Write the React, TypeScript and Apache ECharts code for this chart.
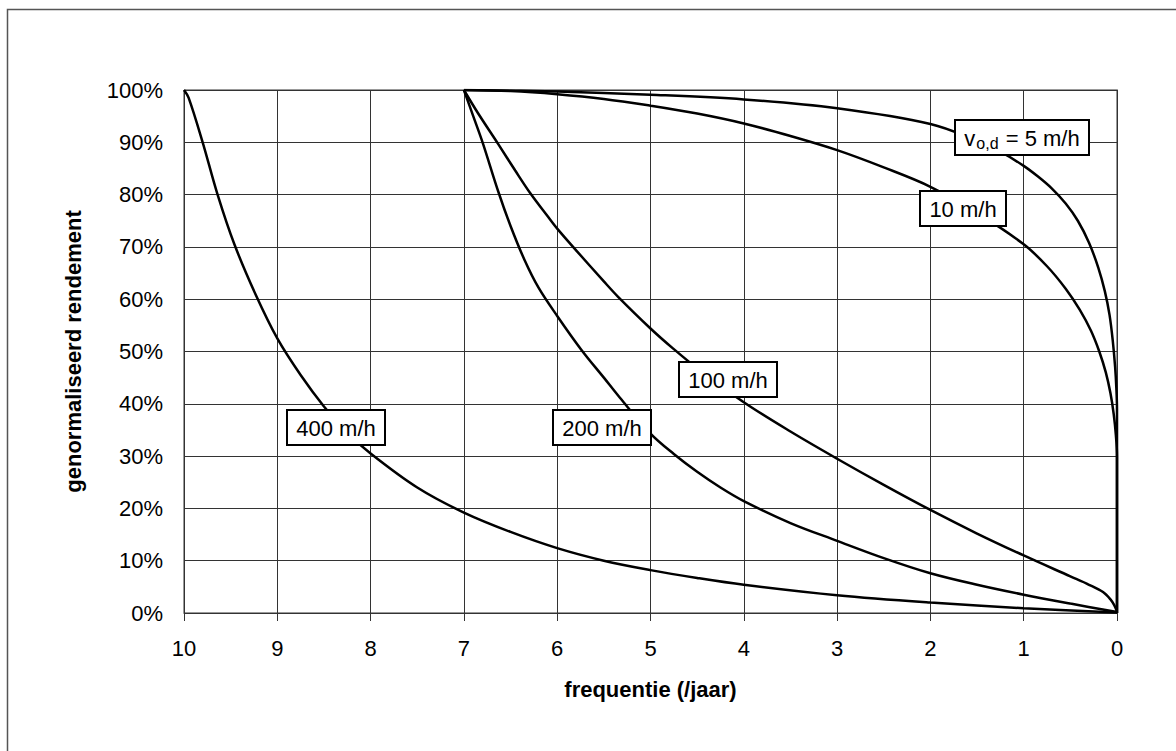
import React, { useEffect, useRef } from "react";
import * as echarts from "echarts";

// frequentie (/jaar) , genormaliseerd rendement (%)
const curve5: number[][] = [
  [7, 100], [6, 99.7], [5, 99.1], [4, 98.2], [3, 96.5], [2, 93.5], [1.5, 90.3], [1.25, 88.2],
  [1.0, 85.5], [0.85, 83.5], [0.7, 81.2], [0.55, 78.3], [0.42, 75], [0.3, 70.8], [0.2, 66],
  [0.13, 61.5], [0.08, 57], [0.045, 52], [0.02, 47], [0.007, 43], [0, 39], [0, 0],
];
const curve10: number[][] = [
  [7, 100], [6.5, 99.8], [6, 99.2], [5.5, 98.3], [5, 97], [4.5, 95.5], [4, 93.6], [3.5, 91.2],
  [3, 88.5], [2.5, 85.2], [2, 81.5], [1.5, 76.5], [1.0, 70.5], [0.75, 66.3], [0.55, 62],
  [0.4, 58], [0.28, 54], [0.19, 50], [0.12, 46], [0.07, 42], [0.035, 38], [0.012, 34], [0, 30], [0, 0],
];
const curve100: number[][] = [
  [7, 100], [6.85, 95.6], [6.63, 89.6], [6.45, 84.6], [6.29, 80.3], [6.1, 75.8], [6, 73.5],
  [5.79, 69.2], [5.5, 63.4], [5.35, 60.5], [5, 54.4], [4.76, 50.6], [4.5, 46.8], [4, 40.3],
  [3.5, 34.7], [3, 29.5], [2.5, 24.5], [2, 19.7], [1.5, 15.2], [1, 11], [0.5, 7], [0.3, 5.4],
  [0.15, 4], [0.07, 2.6], [0.03, 1.5], [0, 0.3],
];
const curve200: number[][] = [
  [7, 100], [6.9, 95], [6.8, 90], [6.63, 80.5], [6.5, 74], [6.35, 67.5], [6.2, 62.2], [6, 56.8],
  [5.74, 50.3], [5.5, 45], [5.33, 41.2], [5, 34.3], [4.75, 30.4], [4.5, 27], [4.25, 24],
  [4, 21.4], [3.5, 17.2], [3, 13.8], [2.5, 10.5], [2, 7.6], [1.5, 5.4], [1, 3.5], [0.5, 1.8], [0, 0.2],
];
const curve400: number[][] = [
  [10, 100], [9.95, 98.5], [9.8, 90], [9.64, 80], [9.46, 70.5], [9.23, 60.8], [9, 52.5],
  [8.75, 45.5], [8.5, 39.5], [8.25, 34.5], [8, 30.5], [7.5, 24], [7, 19.2], [6.5, 15.5],
  [6, 12.4], [5.5, 10], [5, 8.2], [4.5, 6.7], [4, 5.4], [3, 3.4], [2, 2.0], [1, 0.9], [0, 0.1],
];

// curve labels: [main text before subscript, subscript, main text after], anchor (frequentie, rendement)
const labelParts: string[][] = [["v", "o,d", " = 5 m/h"], ["10 m/h", "", ""], ["100 m/h", "", ""], ["200 m/h", "", ""], ["400 m/h", "", ""]];
const labelPos: number[][] = [[1.02, 91.0], [1.65, 77.3], [4.17, 44.7], [5.52, 35.4], [8.37, 35.4]];

const FONT = "Liberation Sans, Arial, sans-serif";
const LABEL_SIZE = 22;
const SUB_SIZE = 16;

function measure(text: string, size: number): number {
  const c = document.createElement("canvas").getContext("2d");
  if (!c) return text.length * size * 0.55;
  c.font = `${size}px ${FONT}`;
  return c.measureText(text).width;
}

export default function App() {
  const ref = useRef<HTMLDivElement>(null);
  useEffect(() => {
    if (!ref.current) return;
    const chart = echarts.init(ref.current, undefined, { renderer: "svg" });
    const lineStyle = { color: "#000", width: 2.5 };
    const mk = (name: string, data: number[][]) => ({
      type: "line",
      name,
      data,
      showSymbol: false,
      symbol: "none",
      smooth: 0.35,
      lineStyle,
      z: 3,
    });
    chart.setOption({
      animation: false,
      backgroundColor: "#fff",
      textStyle: { fontFamily: FONT },
      grid: { left: 184, top: 90, width: 933, height: 523, show: true, borderColor: "#333", borderWidth: 1 },
      xAxis: {
        type: "value",
        min: 0,
        max: 10,
        interval: 1,
        inverse: true,
        name: "frequentie (/jaar)",
        nameLocation: "middle",
        nameGap: 65,
        nameTextStyle: { fontSize: 22, fontWeight: "bold", color: "#000", fontFamily: FONT },
        axisLine: { show: true, lineStyle: { color: "#333", width: 1 } },
        axisTick: { show: true, length: 8, lineStyle: { color: "#333" } },
        axisLabel: { fontSize: 22, color: "#000", margin: 24, fontFamily: FONT },
        splitLine: { show: true, lineStyle: { color: "#333", width: 1 } },
      },
      yAxis: {
        type: "value",
        min: 0,
        max: 100,
        interval: 10,
        name: "genormaliseerd rendement",
        nameLocation: "middle",
        nameRotate: 90,
        nameGap: 100,
        nameTextStyle: { fontSize: 22, fontWeight: "bold", color: "#000", fontFamily: FONT },
        axisLine: { show: true, lineStyle: { color: "#333", width: 1 } },
        axisTick: { show: false },
        axisLabel: { fontSize: 22, color: "#000", margin: 21, formatter: "{value}%", fontFamily: FONT },
        splitLine: { show: true, lineStyle: { color: "#333", width: 1 } },
      },
      series: [
        mk("5 m/h", curve5),
        mk("10 m/h", curve10),
        mk("100 m/h", curve100),
        mk("200 m/h", curve200),
        mk("400 m/h", curve400),
      ],
    });

    const graphics: any[] = [
      {
        type: "rect",
        shape: { x: 7.5, y: 9.5, width: 1300, height: 900 },
        style: { fill: "none", stroke: "#555", lineWidth: 1.5 },
        silent: true,
        z: 0,
      },
    ];
    labelParts.forEach((parts, i) => {
      const [pre, sub, post] = parts;
      const w =
        measure(pre, LABEL_SIZE) + (sub ? measure(sub, SUB_SIZE) + 2 : 0) + (post ? measure(post, LABEL_SIZE) : 0);
      const boxW = Math.round(w + 19);
      const boxH = 35;
      const c = chart.convertToPixel({ gridIndex: 0 }, labelPos[i]) as number[];
      const x0 = Math.round(c[0] - boxW / 2);
      const y0 = Math.round(c[1] - boxH / 2);
      const text = sub ? `{a|${pre}}{s|${sub}}{a|${post}}` : `{a|${pre}}`;
      graphics.push({
        type: "group",
        z: 20,
        children: [
          {
            type: "rect",
            shape: { x: x0, y: y0, width: boxW, height: boxH },
            style: { fill: "#fff", stroke: "#000", lineWidth: 2 },
            z: 20,
          },
          {
            type: "text",
            x: x0 + boxW / 2,
            y: y0 + boxH / 2 + 1,
            z: 21,
            style: {
              text,
              align: "center",
              verticalAlign: "middle",
              fill: "#000",
              rich: {
                a: { fontSize: LABEL_SIZE, fontFamily: FONT, fill: "#000" },
                s: { fontSize: SUB_SIZE, fontFamily: FONT, fill: "#000", verticalAlign: "bottom", padding: [10, 1, 0, 1] },
              },
            },
          },
        ],
      });
    });
    chart.setOption({ graphic: graphics });
    return () => chart.dispose();
  }, []);
  return <div ref={ref} style={{ position: "absolute", left: 0, top: 0, width: 1176, height: 751 }} />;
}
